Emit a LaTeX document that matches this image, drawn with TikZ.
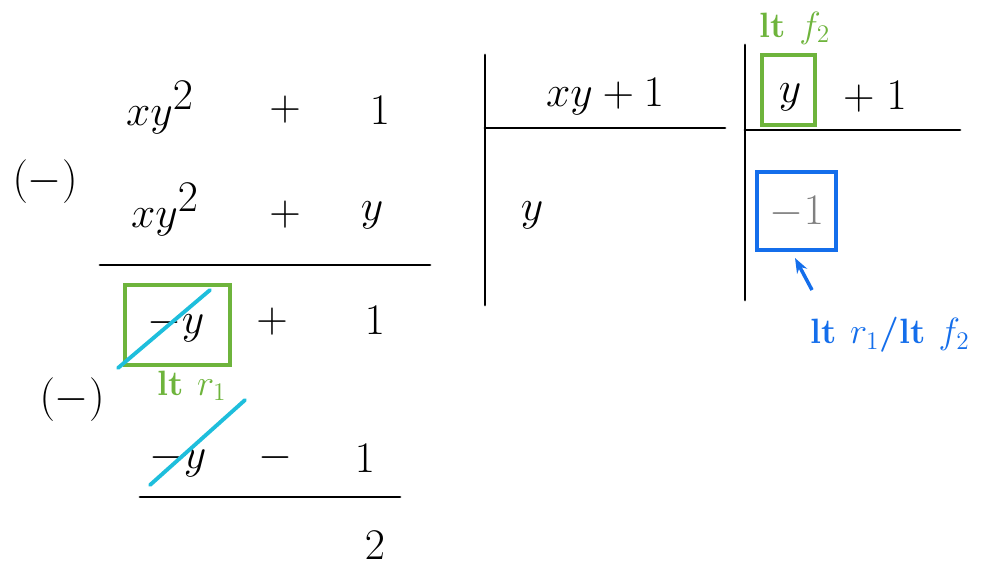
\documentclass[tikz,border=0pt]{standalone}
\usepackage{tikz}
\usetikzlibrary{arrows.meta,positioning}
\definecolor{ltgreen}{RGB}{110,180,60}
\definecolor{ltblue}{RGB}{20,110,235}
\definecolor{slashcyan}{RGB}{30,190,220}

\begin{document}
\begin{tikzpicture}[x=0.2mm,y=-0.2mm,
    term/.style={font=\fontsize{40}{46}\selectfont, inner sep=0pt},
    note/.style={font=\fontsize{20}{24}\selectfont\bfseries, inner sep=0pt},
    rule/.style={line width=1.6pt, line cap=round},
    ltbox/.style={draw=ltgreen, line width=2pt},
    slash/.style={draw=slashcyan, line width=2.2pt, line cap=round}
]
\useasboundingbox (0,0) rectangle (989,572);

% dividend and first subtraction
\node[term] (p1a) at (160,108) {$xy^2$};
\node[term] (p1b) at (285,110) {$+$};
\node[term] (p1c) at (380,110) {$1$};
\node[term] (m1) at (45,182) {$(-)$};
\node[term] (s1a) at (165,210) {$xy^2$};
\node[term] (s1b) at (285,215) {$+$};
\node[term] (s1c) at (372,215) {$y$};
\draw[rule] (100,265) -- (430,265);

% first remainder
\node[term] (r1a) at (176,325) {$-y$};
\node[term] (r1b) at (272,322) {$+$};
\node[term] (r1c) at (375,320) {$1$};
\draw[ltbox] (125,285) rectangle (230,365);
\draw[slash] (118,368) -- (210,290);
\node[note, text=ltgreen] (ltr1) at (192,386) {lt $r_1$};

% second subtraction
\node[term] (m2) at (72,400) {$(-)$};
\node[term] (s2a) at (178,460) {$-y$};
\node[term] (s2b) at (275,458) {$-$};
\node[term] (s2c) at (365,458) {$1$};
\draw[slash] (150,485) -- (245,400);
\draw[rule] (140,497) -- (400,497);
\node[term] (rem) at (375,545) {$2$};

% first bracket
\draw[rule] (485,55) -- (485,305);
\draw[rule] (485,128) -- (725,128);
\node[term] (d1) at (605,97) {$xy+1$};
\node[term] (q1) at (532,215) {$y$};

% second bracket
\draw[rule] (745,45) -- (745,300);
\draw[rule] (745,130) -- (960,130);
\node[term] (d2a) at (790,97) {$y$};
\node[term] (d2b) at (875,97) {$+\;1$};
\draw[ltbox] (762,55) rectangle (815,125);
\node[note, text=ltgreen] (ltf2) at (795,28) {lt $f_2$};
\draw[draw=ltblue, line width=2pt] (757,172) rectangle (836,250);
\node[term, text=gray] (q2) at (797,212) {$-1$};
\node[note, text=ltblue] (ratio) at (890,335) {lt $r_1$/lt $f_2$};
\coordinate (tail) at (812,290);
\draw[ltblue, line width=2pt, -{Stealth[length=3mm]}] (tail) -- (795,258);
\end{tikzpicture}
\end{document}
